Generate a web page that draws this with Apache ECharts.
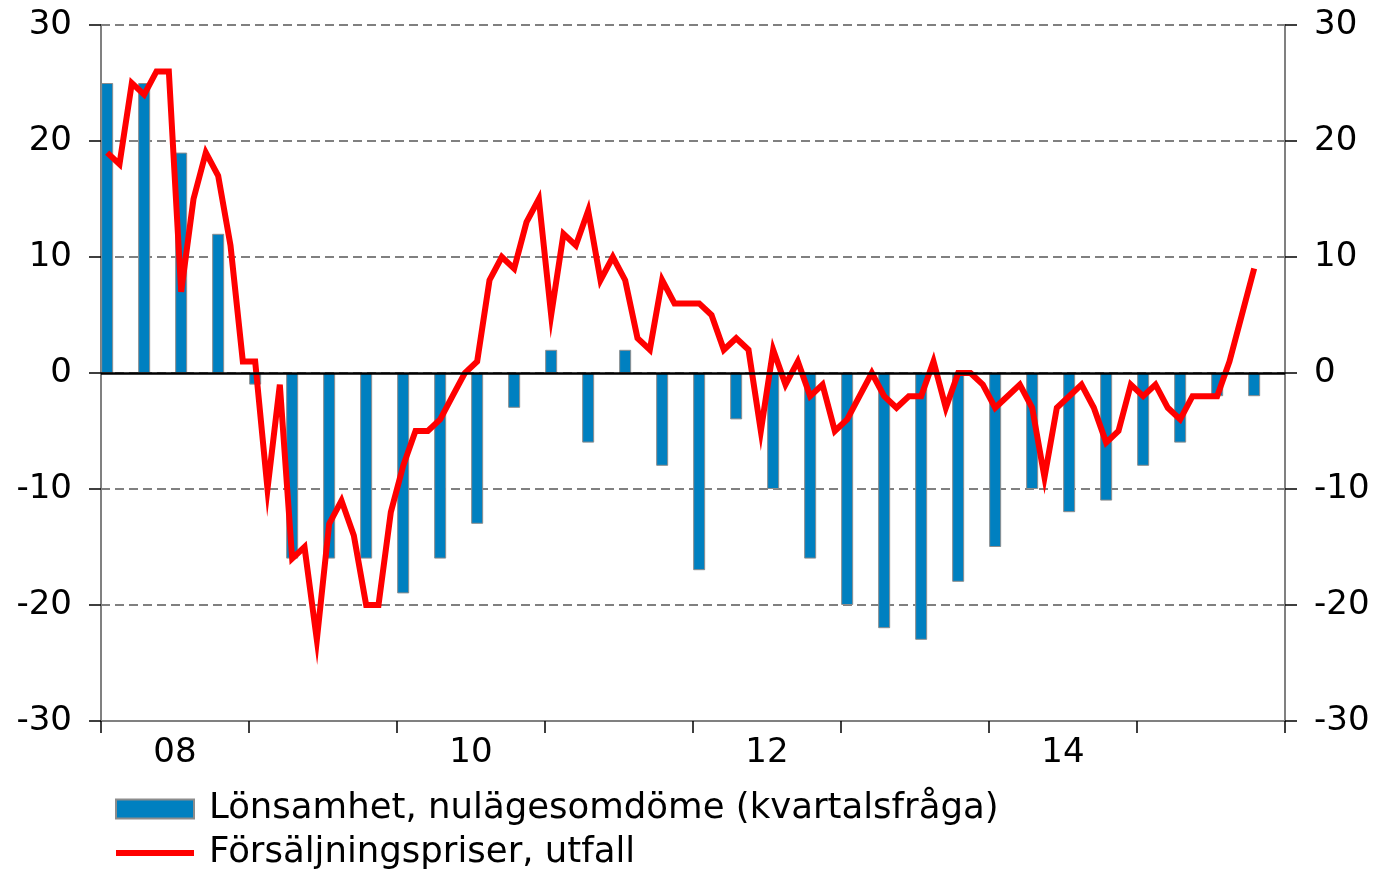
<!DOCTYPE html>
<html><head><meta charset="utf-8">
<script src="https://cdn.jsdelivr.net/npm/echarts@6/dist/echarts.min.js"></script>
<style>html,body{margin:0;padding:0;background:#fff}#c{width:1376px;height:872px}</style>
</head><body><div id="c"></div>
<script>
// Categories
const years = ['2008','2009','2010','2011','2012','2013','2014','2015'];
const monthNums = ['01','02','03','04','05','06','07','08','09','10','11','12'];
const months = years.flatMap(y => monthNums.map(m => y + '-' + m));
const yearTickLabels = ['08','','10','','12','','14',''];

// Series: quarterly (placed at first month of each quarter)
const barName = 'Lönsamhet, nulägesomdöme (kvartalsfråga)';
const lonsamhet = [
  25, 25, 19, 12,
  -1, -16, -16, -16,
  -19, -16, -13, -3,
  2, -6, 2, -8,
  -17, -4, -10, -16,
  -20, -22, -23, -18,
  -15, -10, -12, -11,
  -8, -6, -2, -2
];

// Series: monthly
const lineName = 'Försäljningspriser, utfall';
const forsaljningspriser = [
  19, 18, 25, 24, 26, 26, 7, 15, 19, 17, 11, 1,
  1, -10, -1, -16, -15, -23, -13, -11, -14, -20, -20, -12,
  -8, -5, -5, -4, -2, 0, 1, 8, 10, 9, 13, 15,
  5, 12, 11, 14, 8, 10, 8, 3, 2, 8, 6, 6,
  6, 5, 2, 3, 2, -5, 2, -1, 1, -2, -1, -5,
  -4, -2, 0, -2, -3, -2, -2, 1, -3, 0, 0, -1,
  -3, -2, -1, -3, -9, -3, -2, -1, -3, -6, -5, -1,
  -2, -1, -3, -4, -2, -2, -2, 1, 5, 9
];

const barData = months.map((m, i) => (i % 3 === 0 ? lonsamhet[i / 3] : '-'));
const lineData = months.map((m, i) => (i < forsaljningspriser.length ? forsaljningspriser[i] : '-'));

const FONT = 'DejaVu Sans';
const FS = 34;
const chart = echarts.init(document.getElementById('c'), null, {renderer: 'canvas'});
const yAxisCommon = {
  type: 'value', min: -30, max: 30, interval: 10,
  axisLine: {show: true, onZero: false, lineStyle: {color: '#808080', width: 2}},
  axisTick: {show: true, inside: false, length: 12, lineStyle: {color: '#000', width: 1.5}},
  axisLabel: {color: '#000', fontFamily: FONT, fontSize: FS, margin: 29},
};
chart.setOption({
  animation: false,
  backgroundColor: '#fff',
  grid: {left: 101, right: 91, top: 25, bottom: 151, containLabel: false},
  legend: {
    orient: 'vertical', left: 115, top: 791, padding: 0,
    itemWidth: 78, itemHeight: 19, itemGap: 8,
    textStyle: {color: '#000', fontFamily: FONT, fontSize: 35.5, lineHeight: 34, padding: [0, 0, 0, 10]},
    data: [
      {name: barName, icon: 'rect'},
      {name: lineName, icon: 'path://M0,0H78V6H0Z', itemStyle: {color: '#ff0000', borderWidth: 0}}
    ]
  },
  xAxis: [
    {
      type: 'category', data: months, boundaryGap: true,
      axisLine: {show: true, onZero: false, lineStyle: {color: '#808080', width: 2}},
      axisTick: {show: false}, axisLabel: {show: false}, splitLine: {show: false}
    },
    {
      type: 'category', data: years, boundaryGap: true, position: 'bottom',
      axisLine: {show: false, onZero: false},
      axisTick: {show: true, length: 12, lineStyle: {color: '#000', width: 1.5}},
      axisLabel: {color: '#000', fontFamily: FONT, fontSize: FS, margin: 15, interval: 0,
        formatter: (v, i) => yearTickLabels[i]},
      splitLine: {show: false}
    }
  ],
  yAxis: [
    Object.assign({}, yAxisCommon, {
      position: 'left',
      splitLine: {show: true, lineStyle: {color: '#808080', width: 2, type: [9, 5]}}
    }),
    Object.assign({}, yAxisCommon, {
      position: 'right',
      splitLine: {show: false}
    })
  ],
  series: [
    {
      name: barName, type: 'bar', xAxisIndex: 0, yAxisIndex: 0,
      data: barData, barWidth: 12,
      itemStyle: {color: '#0080c0', borderColor: '#8c8c8c', borderWidth: 1},
      z: 2,
      markLine: {
        silent: true, symbol: 'none', label: {show: false},
        lineStyle: {color: '#000', width: 2.5, type: 'solid'},
        data: [{yAxis: 0}]
      }
    },
    {
      name: lineName, type: 'line', xAxisIndex: 0, yAxisIndex: 0,
      data: lineData, showSymbol: false, symbol: 'none', connectNulls: false,
      lineStyle: {color: '#ff0000', width: 6, join: 'miter', miterLimit: 10},
      itemStyle: {color: '#ff0000'},
      z: 4
    }
  ]
});
</script>
</body></html>
